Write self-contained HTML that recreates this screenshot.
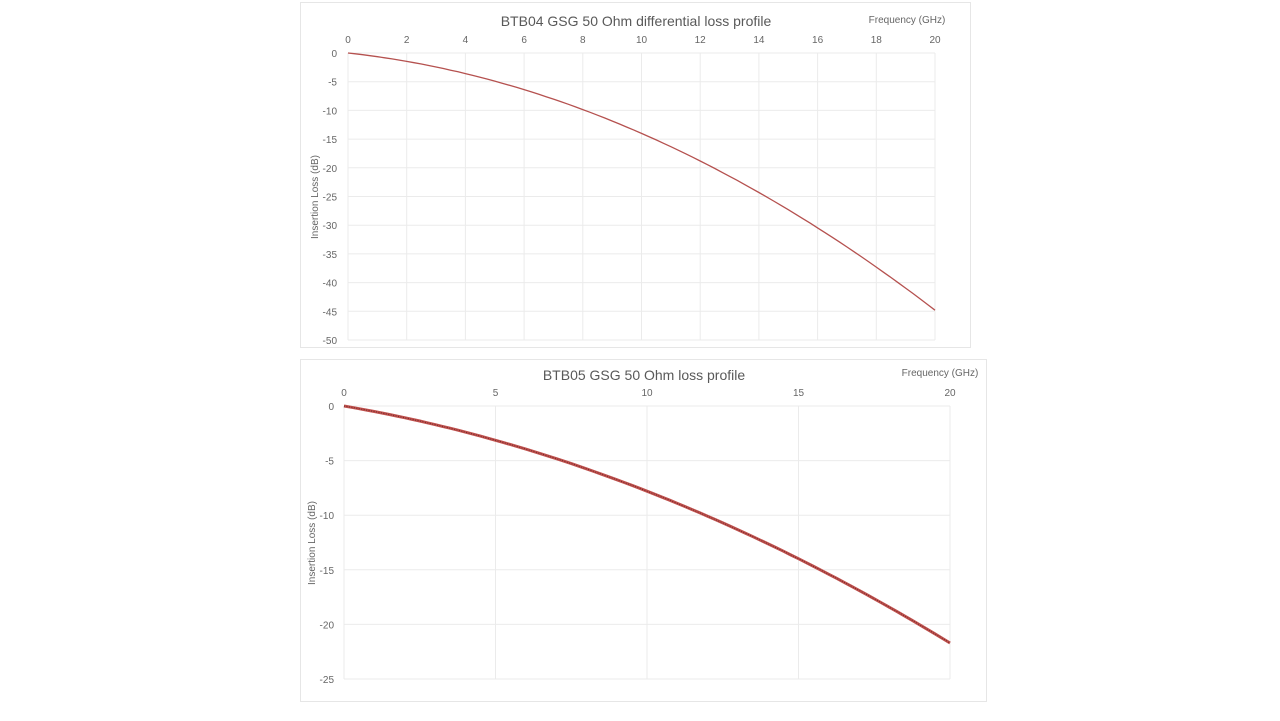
<!DOCTYPE html><html><head><style>body{margin:0;background:#fff}svg{display:block;font-family:"Liberation Sans",sans-serif}</style></head><body>
<svg width="1280" height="721" viewBox="0 0 1280 721">
<rect x="300.5" y="2.5" width="670" height="345" fill="#fff" stroke="#e6e6e6"/>
<rect x="300.5" y="359.5" width="686" height="342" fill="#fff" stroke="#e6e6e6"/>
<g stroke="#e8e8e8" stroke-width="1" id="g1"></g>
<script>
var ns="http://www.w3.org/2000/svg",s=document.querySelector('svg');
function el(t,a,txt){var e=document.createElementNS(ns,t);for(var k in a)e.setAttribute(k,a[k]);if(txt!=null)e.textContent=txt;s.appendChild(e);return e;}
// chart 1
var x0=348,x1=935,y0=53,y1=340;
for(var i=0;i<=10;i++){var x=x0+(x1-x0)*i/10;el('line',{x1:x,y1:y0,x2:x,y2:y1,stroke:'#ebebeb'});el('text',{x:x,y:43,'font-size':10,fill:'#666','text-anchor':'middle'},i*2);}
for(var j=0;j<=10;j++){var y=y0+(y1-y0)*j/10;el('line',{x1:x0,y1:y,x2:x1,y2:y,stroke:'#ebebeb'});el('text',{x:337,y:y+4,'font-size':10,fill:'#666','text-anchor':'end'},j?-5*j:0);}
var d='';for(var f=0;f<=20;f+=0.25){var v=0.56*f+0.084*f*f;d+=(f?'L':'M')+(x0+(x1-x0)*f/20).toFixed(1)+','+(y0+(y1-y0)*v/50).toFixed(1);}
el('path',{d:d,fill:'none',stroke:'#b5514f','stroke-width':1.3});
el('text',{x:636,y:26,'font-size':14,fill:'#595959','text-anchor':'middle'},'BTB04 GSG 50 Ohm differential loss profile');
el('text',{x:907,y:23,'font-size':10,fill:'#666','text-anchor':'middle'},'Frequency (GHz)');
el('text',{x:0,y:0,'font-size':10,fill:'#666','text-anchor':'middle',transform:'translate(318,197) rotate(-90)'},'Insertion Loss (dB)');
// chart 2
x0=344;x1=950;y0=406;y1=679;
for(var i=0;i<=4;i++){var x=x0+(x1-x0)*i/4;el('line',{x1:x,y1:y0,x2:x,y2:y1,stroke:'#ebebeb'});el('text',{x:x,y:396,'font-size':10,fill:'#666','text-anchor':'middle'},i*5);}
for(var j=0;j<=5;j++){var y=y0+(y1-y0)*j/5;el('line',{x1:x0,y1:y,x2:x1,y2:y,stroke:'#ebebeb'});el('text',{x:334,y:y+4,'font-size':10,fill:'#666','text-anchor':'end'},j?-5*j:0);}
d='';for(var f=0;f<=20;f+=0.25){var v=0.475*f+0.0305*f*f;d+=(f?'L':'M')+(x0+(x1-x0)*f/20).toFixed(1)+','+(y0+(y1-y0)*v/25).toFixed(1);}
el('path',{d:d,fill:'none',stroke:'#c0504d','stroke-width':3});
el('path',{d:d,fill:'none',stroke:'#6a2a28','stroke-width':1,'stroke-dasharray':'1 1.5'});
el('text',{x:644,y:380,'font-size':14,fill:'#595959','text-anchor':'middle'},'BTB05 GSG 50 Ohm loss profile');
el('text',{x:940,y:376,'font-size':10,fill:'#666','text-anchor':'middle'},'Frequency (GHz)');
el('text',{x:0,y:0,'font-size':10,fill:'#666','text-anchor':'middle',transform:'translate(315,543) rotate(-90)'},'Insertion Loss (dB)');
</script>
</svg></body></html>
